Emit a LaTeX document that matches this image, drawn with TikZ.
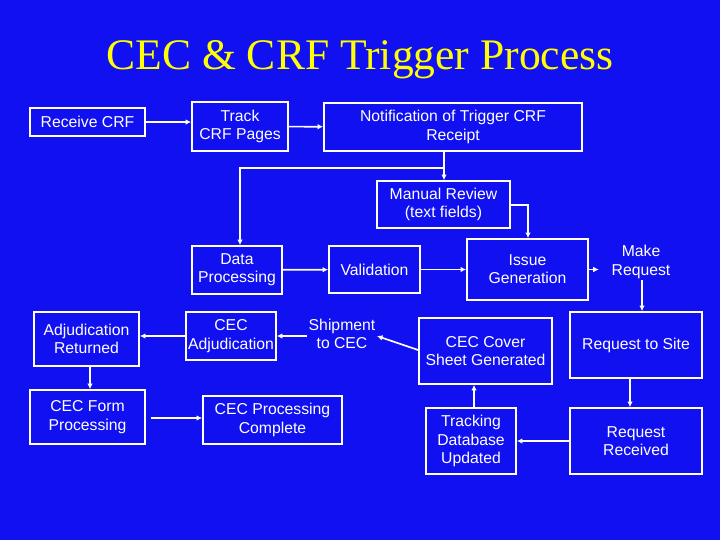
\documentclass[tikz,border=0pt]{standalone}
\usepackage{fontspec}
\setmainfont{Liberation Sans}
\newfontfamily\titlefont{Liberation Serif}
\usetikzlibrary{positioning,arrows.meta}
\definecolor{slideblue}{RGB}{16,16,240}
\definecolor{titleyellow}{RGB}{255,255,0}
\tikzset{
  stage/.style={draw=white, line width=1.2pt, fill=slideblue, text=white, align=center,
    inner sep=1pt, font=\fontsize{11.2}{13}\selectfont},
  bare/.style={text=white, align=center, inner sep=1pt, font=\fontsize{11.2}{13}\selectfont},
  flow/.style={draw=white, line width=1.2pt, -{Latex[length=4pt,width=4pt]}},
}
\begin{document}
\begin{tikzpicture}[x=0.025cm, y=-0.025cm]
\fill[slideblue] (0,0) rectangle (720,540);
\useasboundingbox (0,0) rectangle (720,540);
%title
\node[text=titleyellow, font=\titlefont\fontsize{31}{36}\selectfont] (title) at (360,60) {CEC \& CRF Trigger Process};
%top row
\node[stage, minimum width=2.875cm, minimum height=0.7cm] (recv) at (87.5,122) {Receive CRF};
\node[stage, minimum width=2.4cm, minimum height=1.225cm] (track) at (240,126.5) {Track\\CRF Pages};
\node[stage, minimum width=6.45cm, minimum height=1.2cm] (notif) at (453,127) {Notification of Trigger CRF\\Receipt};
\node[stage, minimum width=3.325cm, minimum height=1.175cm] (manual) at (443.5,204.5) {Manual Review\\(text fields)};
%middle row
\node[stage, minimum width=2.25cm, minimum height=1.2cm] (data) at (237,270) {Data\\Processing};
\node[stage, minimum width=2.275cm, minimum height=1.175cm] (valid) at (374.5,269.5) {Validation};
\node[stage, minimum width=3.025cm, minimum height=1.525cm] (issue) at (527.5,269.5) {Issue\\Generation};
\node[bare] (make) at (641,262) {Make\\Request};
%lower rows
\node[stage, minimum width=2.625cm, minimum height=1.35cm] (adjret) at (86.5,339) {Adjudication\\Returned};
\node[stage, minimum width=2.25cm, minimum height=1.2cm] (cecadj) at (231,336) {CEC\\Adjudication};
\node[bare] (ship) at (342,334) {Shipment\\to CEC};
\node[stage, minimum width=3.325cm, minimum height=1.65cm] (cover) at (485.5,351) {CEC Cover\\Sheet Generated};
\node[stage, minimum width=3.3cm, minimum height=1.65cm] (site) at (636,345) {Request to Site};
\node[stage, minimum width=2.875cm, minimum height=1.35cm] (form) at (87.5,417) {CEC Form\\Processing};
\node[stage, minimum width=3.475cm, minimum height=1.2cm] (done) at (272.5,420) {CEC Processing\\Complete};
\node[stage, minimum width=2.25cm, minimum height=1.65cm] (trackdb) at (471,441) {Tracking\\Database\\Updated};
\node[stage, minimum width=3.3cm, minimum height=1.65cm] (recd) at (636,441) {Request\\Received};
%connectors
\coordinate (split) at (444,168);
\draw[flow] (notif.south -| split) -- (split) -- (manual.north -| split);
\draw[flow] (recv) -- (track.west |- recv);
\draw[flow] (track) -- (notif);
\draw[flow] (split) -| (data.north -| 240,0);
\draw[flow] (manual.east |- 0,205) -| (issue.north -| 528,0);
\draw[flow] (data) -- (valid);
\draw[flow] (valid) -- (issue);
\draw[flow] (issue.east) -- +(10,0);
\draw[flow] (make.south -| 642,0) -- (site.north -| 642,0);
\draw[flow] (cover.west |- 0,350) -- (ship.east |- 0,336);
\draw[flow] (ship.west |- 0,336) -- (cecadj.east |- 0,336);
\draw[flow] (cecadj.west |- 0,336) -- (adjret.east |- 0,336);
\draw[flow] (adjret.south -| 90,0) -- (form.north -| 90,0);
\draw[flow] (form.east |- 0,418) ++(5,0) -- (done.west |- 0,418);
\draw[flow] (site.south -| 630,0) -- (recd.north -| 630,0);
\draw[flow] (recd.west |- 0,441) -- (trackdb.east |- 0,441);
\draw[flow] (trackdb.north -| 474,0) -- (cover.south -| 474,0);
\end{tikzpicture}
\end{document}
